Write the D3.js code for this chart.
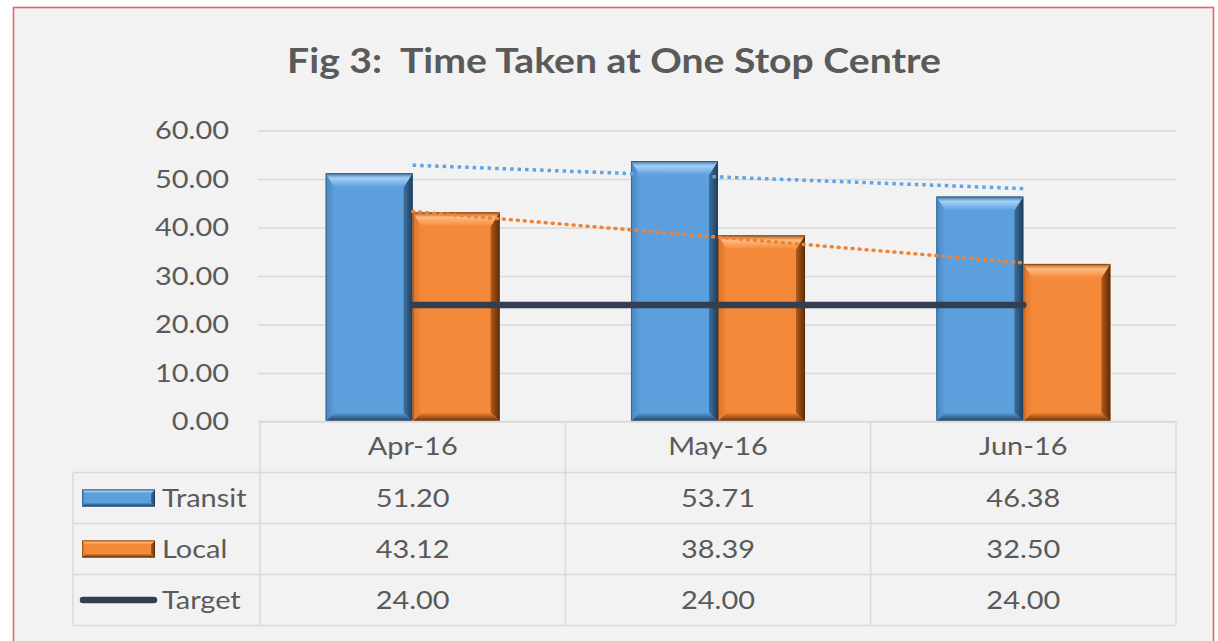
<!DOCTYPE html>
<html>
<head>
<meta charset="utf-8">
<script src="https://cdn.jsdelivr.net/npm/d3@7"></script>
<style>
  html, body { margin: 0; padding: 0; background: #ffffff; }
  svg { display: block; }
  text { font-family: Lato, "Open Sans", sans-serif; fill: #5a5a5a; white-space: pre; }
</style>
</head>
<body>
<svg id="chart" width="1218" height="641"></svg>
<script>
// ---------- data ----------
const title = "Fig 3:  Time Taken at One Stop Centre";
const categories = ["Apr-16", "May-16", "Jun-16"];
const seriesNames = ["Transit", "Local", "Target"];
const transit = [51.20, 53.71, 46.38];
const local = [43.12, 38.39, 32.50];
const target = [24.00, 24.00, 24.00];
const yTicks = [0, 10, 20, 30, 40, 50, 60];

// ---------- layout ----------
const svg = d3.select("#chart");
const W = 1218, H = 641;
const plot = { left: 260, right: 1176, top: 130.5, bottom: 421.5 };
const tableLeft = 73, rowH = 51;

const colors = {
  Transit: { base: "#5b9fdd", light: "#a3d0f6", dark: "#1f3d5a", mid: "#3d70a0", left: "#4a86c0" },
  Local:   { base: "#f5893a", light: "#fdbb80", dark: "#5e2c06", mid: "#b05a1b", left: "#d9742a" },
  Target:  "#333f50"
};

const defs = svg.append("defs");

// background panel with red frame
svg.append("rect").attr("x", 0).attr("y", 0).attr("width", W).attr("height", H).attr("fill", "#ffffff");
svg.append("rect").attr("x", 13.5).attr("y", 7.5).attr("width", 1200).attr("height", 700)
  .attr("fill", "#f2f2f2").attr("stroke", "#e0646b").attr("stroke-width", 1.6);

// scales
const x = d3.scaleBand().domain(categories).range([plot.left, plot.right]).padding(0);
const barW = x.bandwidth() * 0.285;
const xInner = d3.scaleBand().domain(["Transit", "Local"]).range([-barW, barW]).padding(0);
const y = d3.scaleLinear().domain([0, 60]).range([plot.bottom, plot.top]);

// text width measurement -> horizontal stretch factor
function widthOf(str, size, weight) {
  const t = svg.append("text").attr("font-size", size).attr("font-weight", weight).text(str);
  const w = t.node().getComputedTextLength();
  t.remove();
  return w;
}
const titleSize = 35;
const titleSx = 654 / widthOf(title, titleSize, 700);
const bodySize = 25.5;
const bodySx = (72 / widthOf("60.00", bodySize, 400) + 87 / widthOf("Transit", bodySize, 400)) / 2;

function addText(g, tx, ty, str, opt) {
  return g.append("text")
    .attr("transform", `translate(${tx},${ty}) scale(${opt.sx},1)`)
    .attr("dy", opt.dy || 0)
    .attr("text-anchor", opt.anchor || "start")
    .attr("font-size", opt.size)
    .attr("font-weight", opt.weight || 400)
    .text(str);
}

// title
addText(svg, 614, 73, title, { sx: titleSx, size: titleSize, weight: 700, anchor: "middle" }).attr("fill", "#595959");

// gridlines + y axis labels via d3 axis
const yAxis = d3.axisLeft(y).tickValues(yTicks).tickFormat(d3.format(".2f"))
  .tickSize(-(plot.right - 258)).tickPadding(29);
const gy = svg.append("g").attr("transform", "translate(258,0)").call(yAxis);
gy.select(".domain").remove();
gy.selectAll(".tick line").attr("stroke", "#d9d9d9").attr("stroke-width", 1.5);
gy.selectAll(".tick text")
  .attr("x", -29 / bodySx)
  .attr("transform", `scale(${bodySx},1)`)
  .attr("font-size", bodySize).attr("fill", "#5a5a5a")
  .attr("font-family", "Lato, 'Open Sans', sans-serif");

// gradients for bevels
function gradients(name, c) {
  const top = defs.append("linearGradient").attr("id", name + "-top").attr("x1", 0).attr("y1", 0).attr("x2", 0).attr("y2", 1);
  top.append("stop").attr("offset", "0%").attr("stop-color", c.mid);
  top.append("stop").attr("offset", "35%").attr("stop-color", c.light);
  top.append("stop").attr("offset", "100%").attr("stop-color", c.base);
  const right = defs.append("linearGradient").attr("id", name + "-right").attr("x1", 0).attr("y1", 0).attr("x2", 1).attr("y2", 0);
  right.append("stop").attr("offset", "0%").attr("stop-color", c.mid);
  right.append("stop").attr("offset", "100%").attr("stop-color", c.dark);
  const bottom = defs.append("linearGradient").attr("id", name + "-bottom").attr("x1", 0).attr("y1", 0).attr("x2", 0).attr("y2", 1);
  bottom.append("stop").attr("offset", "0%").attr("stop-color", c.base);
  bottom.append("stop").attr("offset", "100%").attr("stop-color", c.dark);
  const left = defs.append("linearGradient").attr("id", name + "-left").attr("x1", 0).attr("y1", 0).attr("x2", 1).attr("y2", 0);
  left.append("stop").attr("offset", "0%").attr("stop-color", c.left);
  left.append("stop").attr("offset", "100%").attr("stop-color", c.base);
}
gradients("Transit", colors.Transit);
gradients("Local", colors.Local);

function bevelBar(g, name, bx, by, bw, bh, bt, bs) {
  const c = colors[name];
  g.append("rect").attr("x", bx).attr("y", by).attr("width", bw).attr("height", bh).attr("fill", c.base);
  const poly = (pts, fill) => g.append("polygon").attr("points", pts.map(p => p.join(",")).join(" ")).attr("fill", fill);
  poly([[bx, by], [bx + bs, by + bt], [bx + bs, by + bh - bs], [bx, by + bh]], `url(#${name}-left)`);
  poly([[bx + bw, by], [bx + bw, by + bh], [bx + bw - bs, by + bh - bs], [bx + bw - bs, by + bt]], `url(#${name}-right)`);
  poly([[bx, by + bh], [bx + bw, by + bh], [bx + bw - bs, by + bh - bs], [bx + bs, by + bh - bs]], `url(#${name}-bottom)`);
  poly([[bx, by], [bx + bw, by], [bx + bw - bs, by + bt], [bx + bs, by + bt]], `url(#${name}-top)`);
  g.append("rect").attr("x", bx + 0.5).attr("y", by + 0.5).attr("width", bw - 1).attr("height", bh - 1)
    .attr("fill", "none").attr("stroke", c.dark).attr("stroke-opacity", 0.45).attr("stroke-width", 1);
}

// bars
const barsG = svg.append("g");
const barSeries = [["Transit", transit], ["Local", local]];
barSeries.forEach(([name, vals]) => {
  vals.forEach((v, i) => {
    const cx = x(categories[i]) + x.bandwidth() / 2;
    const bx = cx + xInner(name);
    bevelBar(barsG, name, bx, y(v), xInner.bandwidth(), y(0) - y(v), 14, 9);
  });
});

// linear trendlines (least squares over category index)
function trend(vals) {
  const n = vals.length, xs = d3.range(n);
  const mx = d3.mean(xs), my = d3.mean(vals);
  const slope = d3.sum(xs, (xi, k) => (xi - mx) * (vals[k] - my)) / d3.sum(xs, xi => (xi - mx) ** 2);
  return xs.map(xi => my + slope * (xi - mx));
}
const cx = (i) => x(categories[i]) + x.bandwidth() / 2;
const line = d3.line().x((d, i) => cx(i)).y(d => y(d));
svg.append("path").attr("d", line(trend(transit))).attr("fill", "none")
  .attr("stroke", "#62a3e0").attr("stroke-width", 3.5).attr("stroke-dasharray", "3.5,4");
svg.append("path").attr("d", line(trend(local))).attr("fill", "none")
  .attr("stroke", "#ef8236").attr("stroke-width", 3.5).attr("stroke-dasharray", "1,6").attr("stroke-linecap", "round");

// target line
svg.append("path").attr("d", line(target)).attr("fill", "none")
  .attr("stroke", colors.Target).attr("stroke-width", 6.5).attr("stroke-linecap", "round");

// ---------- data table ----------
const rows = d3.scaleBand().domain(["cat"].concat(seriesNames)).range([plot.bottom, plot.bottom + rowH * 4]);
const tg = svg.append("g");
const lc = "#d9d9d9";
// horizontal lines
tg.append("line").attr("x1", plot.left).attr("x2", plot.right).attr("y1", rows("cat")).attr("y2", rows("cat"));
seriesNames.forEach(s => tg.append("line").attr("x1", tableLeft).attr("x2", plot.right).attr("y1", rows(s)).attr("y2", rows(s)));
tg.append("line").attr("x1", tableLeft).attr("x2", plot.right)
  .attr("y1", rows("Target") + rowH).attr("y2", rows("Target") + rowH);
// vertical lines
const tBottom = rows("Target") + rowH;
tg.append("line").attr("x1", tableLeft).attr("x2", tableLeft).attr("y1", rows("Transit")).attr("y2", tBottom);
categories.forEach(c => tg.append("line").attr("x1", x(c)).attr("x2", x(c)).attr("y1", plot.bottom).attr("y2", tBottom));
tg.append("line").attr("x1", plot.right).attr("x2", plot.right).attr("y1", plot.bottom).attr("y2", tBottom);
tg.selectAll("line").attr("stroke", lc).attr("stroke-width", 1.5);

// category labels
categories.forEach((c, i) => {
  addText(tg, cx(i), rows("cat") + rowH / 2 - 1, c, { sx: bodySx, size: bodySize, anchor: "middle", dy: "0.35em" });
});
// values + row labels
const valueRows = { Transit: transit, Local: local, Target: target };
seriesNames.forEach(s => {
  valueRows[s].forEach((v, i) => {
    addText(tg, cx(i), rows(s) + rowH / 2, d3.format(".2f")(v), { sx: bodySx, size: bodySize, anchor: "middle", dy: "0.35em" });
  });
  addText(tg, 162, rows(s) + rowH / 2, s, { sx: bodySx, size: bodySize, anchor: "start", dy: "0.35em" });
});
// legend keys
["Transit", "Local"].forEach(s => {
  bevelBar(tg, s, 82, rows(s) + rowH / 2 - 8.5, 73, 17, 4, 4);
});
tg.append("line").attr("x1", 83).attr("x2", 154)
  .attr("y1", rows("Target") + rowH / 2).attr("y2", rows("Target") + rowH / 2)
  .attr("stroke", colors.Target).attr("stroke-width", 6.5).attr("stroke-linecap", "round");
</script>
</body>
</html>
